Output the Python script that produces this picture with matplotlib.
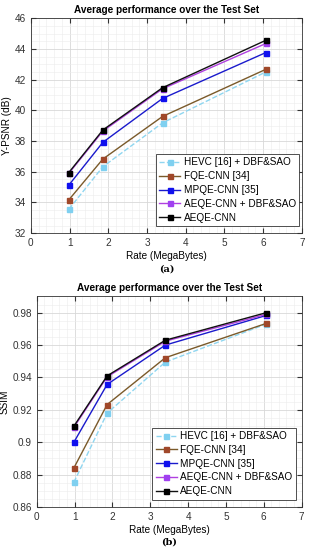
import matplotlib.pyplot as plt
from matplotlib.ticker import MultipleLocator

plt.rcParams['font.family'] = ['Liberation Sans', 'DejaVu Sans']

# rates (MegaBytes)
rate = [0.98, 1.86, 3.40, 6.07]

# Y-PSNR (dB)
psnr_hevc = [33.56, 36.33, 39.18, 42.50]
psnr_fqe = [34.17, 36.83, 39.60, 42.67]
psnr_mpqe = [35.13, 37.92, 40.77, 43.76]
psnr_aeqe_dbf = [35.90, 38.65, 41.40, 44.35]
psnr_aeqe = [35.95, 38.72, 41.47, 44.56]

# SSIM
ssim_hevc = [0.8753, 0.9180, 0.9495, 0.9730]
ssim_fqe = [0.8841, 0.9233, 0.9522, 0.9734]
ssim_mpqe = [0.9000, 0.9357, 0.9600, 0.9783]
ssim_aeqe_dbf = [0.9092, 0.9404, 0.9624, 0.9790]
ssim_aeqe = [0.9099, 0.9410, 0.9630, 0.9800]

labels = ["HEVC [16] + DBF&SAO", "FQE-CNN [34]", "MPQE-CNN [35]",
          "AEQE-CNN + DBF&SAO", "AEQE-CNN"]
line_colors = ["#8fd6f0", "#7a5a2a", "#1a1acc", "#b040e0", "#111111"]
marker_colors = ["#7fd0f0", "#a0482a", "#1010ee", "#a040f0", "#000000"]
styles = ["--", "-", "-", "-", "-"]


def draw(ax, series, ylim, ystep, yminor, ylabel, caption, leg_anchor):
    for vals, lab, lc, mc, ls in zip(series, labels, line_colors, marker_colors, styles):
        ax.plot(rate, vals, ls, color=lc, lw=1.0, marker='s', ms=3.6,
                mfc=mc, mec=mc, label=lab)
    ax.set_xlim(0, 7)
    ax.set_ylim(*ylim)
    ax.xaxis.set_major_locator(MultipleLocator(1))
    ax.xaxis.set_minor_locator(MultipleLocator(0.2))
    ax.yaxis.set_major_locator(MultipleLocator(ystep))
    ax.yaxis.set_minor_locator(MultipleLocator(yminor))
    ax.grid(which='major', color='#d8d8d8', lw=0.6)
    ax.grid(which='minor', color='#ececec', lw=0.4)
    ax.set_axisbelow(True)
    ax.tick_params(which='both', direction='in', labelsize=7.2, colors='#333333',
                   top=True, right=True)
    ax.tick_params(which='minor', length=0)
    for s in ax.spines.values():
        s.set_color('#333333')
        s.set_linewidth(0.6)
    ax.set_title("Average performance over the Test Set", fontsize=7.2,
                 fontweight='bold', pad=4)
    ax.set_xlabel("Rate (MegaBytes)", fontsize=7.2, labelpad=2)
    ax.set_ylabel(ylabel, fontsize=7.2, labelpad=2)
    leg = ax.legend(loc='lower right', bbox_to_anchor=leg_anchor, fontsize=7.2,
                    frameon=True, fancybox=False, framealpha=1,
                    edgecolor='#333333', handlelength=2.1, borderpad=0.35,
                    labelspacing=0.38, handletextpad=0.35, borderaxespad=0)
    leg.get_frame().set_linewidth(0.6)
    ax.text(0.5, -0.145, caption, transform=ax.transAxes, ha='center',
            va='top', fontsize=7, fontweight='bold', family='DejaVu Serif')


fig = plt.figure(figsize=(3.09, 5.5), dpi=100)
ax1 = fig.add_axes([0.100, 0.576, 0.877, 0.391])
ax2 = fig.add_axes([0.119, 0.078, 0.857, 0.383])

draw(ax1, [psnr_hevc, psnr_fqe, psnr_mpqe, psnr_aeqe_dbf, psnr_aeqe],
     (32, 46), 2, 0.5, "Y-PSNR (dB)", "(a)", (0.99, 0.033))
draw(ax2, [ssim_hevc, ssim_fqe, ssim_mpqe, ssim_aeqe_dbf, ssim_aeqe],
     (0.86, 0.99), 0.02, 0.005, "SSIM", "(b)", (0.979, 0.035))
ax2.set_yticks([0.86, 0.88, 0.9, 0.92, 0.94, 0.96, 0.98])
ax2.set_yticklabels(["0.86", "0.88", "0.9", "0.92", "0.94", "0.96", "0.98"])

fig.savefig("out.png", dpi=100)
